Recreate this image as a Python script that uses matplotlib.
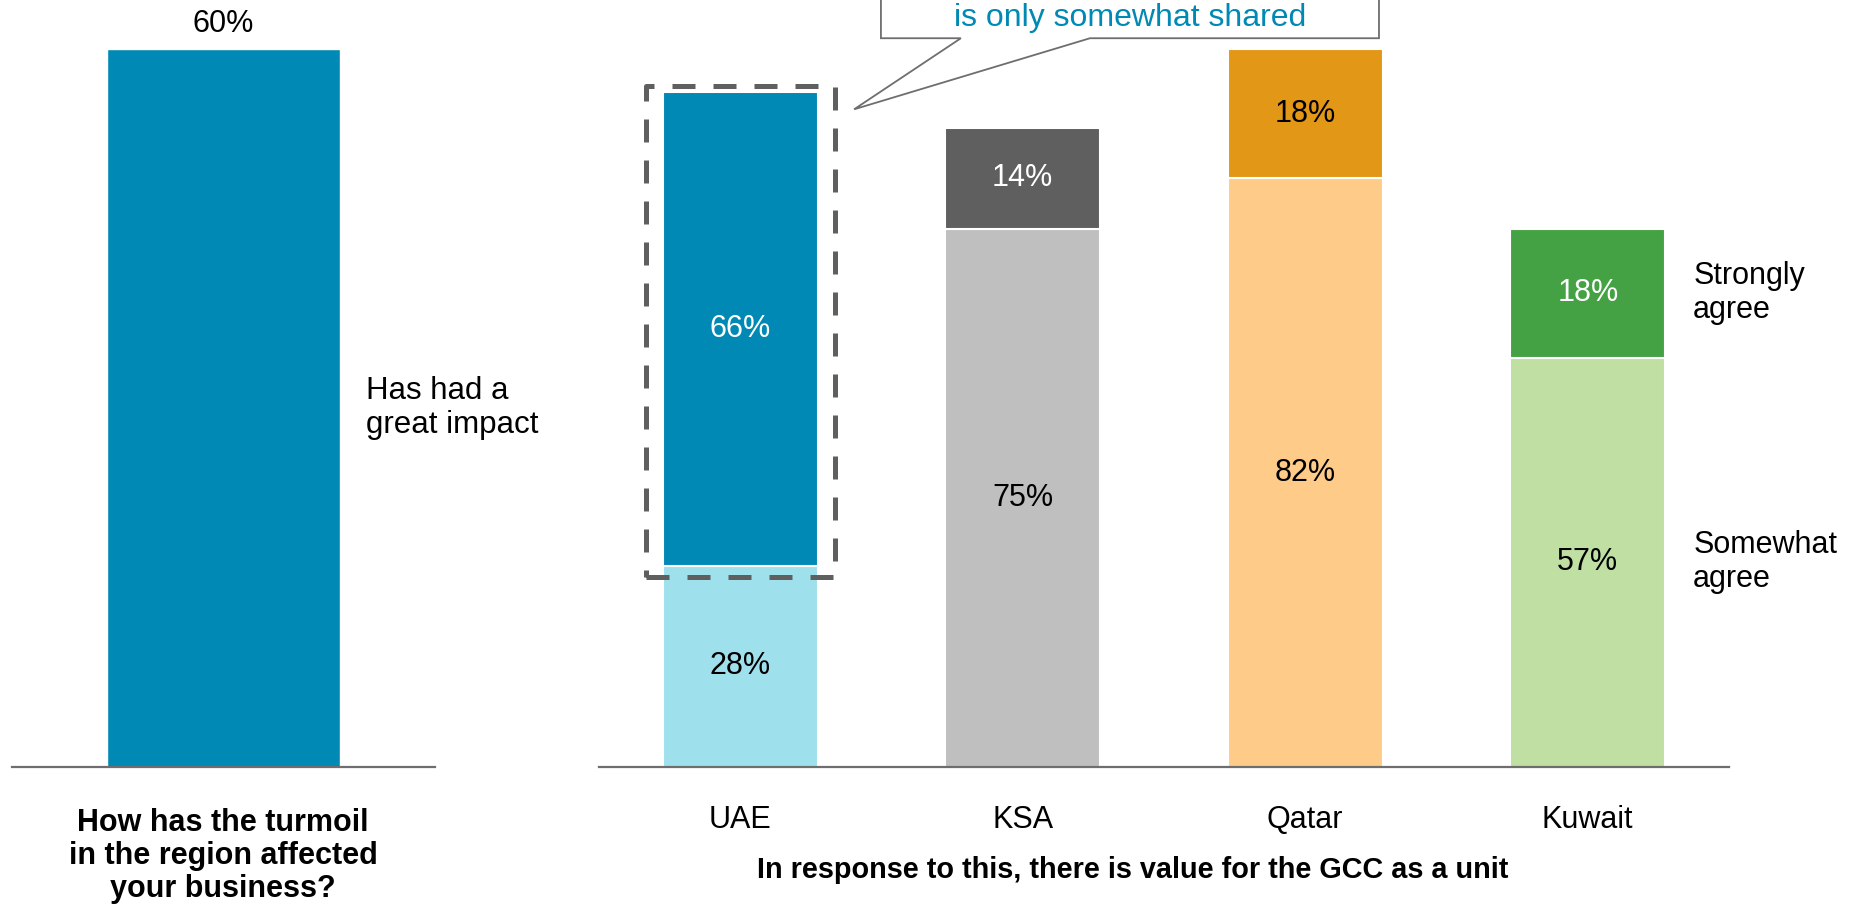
import matplotlib.pyplot as plt
from matplotlib.patches import Rectangle, Polygon

plt.rcParams['font.family'] = ['Liberation Sans', 'DejaVu Sans']

# left panel: single question
impact_label = "Has had a\ngreat impact"
impact_value = 60

# right panel: stacked agreement by country
countries = ["UAE", "KSA", "Qatar", "Kuwait"]
somewhat = [28, 75, 82, 57]
strongly = [66, 14, 18, 18]

dark_colors = ["#0089B4", "#5F5F5F", "#E29816", "#44A244"]
light_colors = ["#9FE0ED", "#BFBFBF", "#FECC88", "#BFDFA3"]
dark_text = ["white", "white", "black", "white"]

W, H = 1864, 913
fig = plt.figure(figsize=(W / 100, H / 100), dpi=100)


def px_box(x0, y0, x1, y1):
    return [x0 / W, 1 - y1 / H, (x1 - x0) / W, (y1 - y0) / H]


axis_gray = "#6E6E6E"
fs = 22

axL = fig.add_axes(px_box(12, 49, 435, 767))
axR = fig.add_axes(px_box(599, 49, 1729, 767))
for ax in (axL, axR):
    for s in ("top", "left", "right"):
        ax.spines[s].set_visible(False)
    ax.spines["bottom"].set_color(axis_gray)
    ax.spines["bottom"].set_linewidth(1.6)
    ax.spines["bottom"].set_zorder(3)
    ax.set_xticks([])
    ax.set_yticks([])

# left bar
axL.set_xlim(0, 1)
axL.set_ylim(0, 60)
axL.bar(0.5, impact_value, width=0.55, color="#0089B4", edgecolor="white", linewidth=1)
axL.annotate(f"{impact_value}%", (0.5, impact_value), xytext=(0, 18), textcoords="offset points",
             ha="center", va="center", fontsize=fs, annotation_clip=False)
axL.text(0.837, impact_value / 2, impact_label, ha="left", va="center", fontsize=22.5, linespacing=1.16)

# stacked bars
x = range(len(countries))
bw = 0.55
axR.set_xlim(-0.5, 3.5)
axR.set_ylim(0, 100)
axR.bar(x, somewhat, width=bw, color=light_colors, edgecolor="white", linewidth=1.5)
axR.bar(x, strongly, bottom=somewhat, width=bw, color=dark_colors, edgecolor="white", linewidth=1.5)
for i in x:
    axR.text(i, somewhat[i] / 2, f"{somewhat[i]}%", ha="center", va="center", fontsize=fs, color="black")
    axR.text(i, somewhat[i] + strongly[i] / 2, f"{strongly[i]}%", ha="center", va="center",
             fontsize=fs, color=dark_text[i])
    axR.annotate(countries[i], (i, 0), xytext=(0, -38), textcoords="offset points",
                 ha="center", va="center", fontsize=fs, annotation_clip=False)

# series labels beside the last bar
last = len(countries) - 1
axR.text(3.373, somewhat[last] + strongly[last] / 2, "Strongly\nagree", ha="left", va="center",
         fontsize=fs, linespacing=1.18, clip_on=False)
axR.text(3.373, somewhat[last] / 2, "Somewhat\nagree", ha="left", va="center",
         fontsize=fs, linespacing=1.18, clip_on=False)

# dashed highlight around the UAE "strongly agree" segment
pad_x = 0.06
hl = Rectangle((0 - bw / 2 - pad_x, somewhat[0] - 1.5), bw + 2 * pad_x, strongly[0] + 2.3,
               fill=False, edgecolor="#5F5F5F", linewidth=3.6, linestyle=(0, (4.6, 3.6)),
               joinstyle="round", capstyle="butt", clip_on=False, zorder=4)
axR.add_patch(hl)

# callout box with pointer to the highlight
callout = Polygon([(0.498, 118), (0.498, 101.5), (0.781, 101.5), (0.403, 91.6),
                   (1.238, 101.5), (2.261, 101.5), (2.261, 118)],
                  closed=True, facecolor="white", edgecolor=axis_gray, linewidth=1.3,
                  clip_on=False, zorder=5)
axR.add_patch(callout)
axR.text(1.38, 104.3, "is only somewhat shared", ha="center", va="center", fontsize=23,
         color="#0089B4", clip_on=False, zorder=6)

# panel titles
fig.text(223 / W, 1 - 856 / H, "How has the turmoil\nin the region affected\nyour business?",
         ha="center", va="center", fontsize=fs, fontweight="bold", linespacing=1.15)
fig.text(1133 / W, 1 - 870 / H, "In response to this, there is value for the GCC as a unit",
         ha="center", va="center", fontsize=20.8, fontweight="bold")

fig.savefig("out.png", dpi=100)
